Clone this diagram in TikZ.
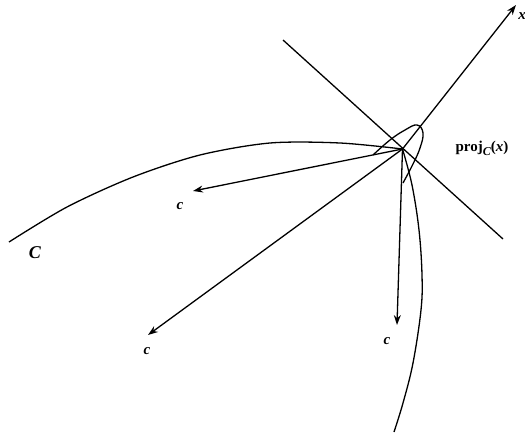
\documentclass[tikz,border=0pt]{standalone}
\usepackage{fontspec}
\setmainfont{Liberation Serif}
\usetikzlibrary{arrows.meta}
\begin{document}
\begin{tikzpicture}[x=1pt,y=-1pt,
  ln/.style={line width=1.3pt},
  vec/.style={line width=1.3pt,-{Stealth[length=10pt,width=7pt]}},
  lab/.style={font=\fontsize{15}{15}\selectfont\bfseries\itshape,inner sep=0pt}]
\useasboundingbox (0,0) rectangle (525,439);
\coordinate (P) at (402.5,149);
\coordinate (c1) at (193,191);
\coordinate (c2) at (148,335);
\coordinate (c3) at (397,325);
\coordinate (xt) at (516,5);
\coordinate (t1) at (283,40);
\coordinate (t2) at (503,239);
% tangent line
\draw[ln] (t1) -- (t2);
% curve C
\draw[ln] plot[smooth,tension=0.5] coordinates {(9,242) (67,207) (133,177) (200,155) (270,143) (340,143) (402.5,149)};
\draw[ln] plot[smooth,tension=0.6] coordinates {(402.5,149) (412,185) (419,230) (422,275) (421,310) (413,363) (403,403) (394,432)};
% cone arc
\draw[ln] plot[smooth,tension=0.7] coordinates {(373,155) (390,140) (405,130) (417,125) (423,133) (420,148) (413,164) (403,183)};
% vectors
\draw[vec] (P) -- (xt);
\draw[vec] (P) -- (c1);
\draw[vec] (P) -- (c2);
\draw[vec] (P) -- (c3);
% labels
\node[lab] (lx) at (522,16) {x};
\node[lab] (l1) at (180,206) {c};
\node[lab] (l2) at (147,351) {c};
\node[lab] (l3) at (387,341) {c};
\node[lab,font=\fontsize{18}{18}\selectfont\bfseries\itshape] (lC) at (35,253) {C};
\node[inner sep=0pt,font=\fontsize{15}{15}\selectfont\bfseries] (lp) at (482,148) {proj\raisebox{-4pt}{\fontsize{12}{12}\selectfont\itshape C}(\textit{x})};
\end{tikzpicture}
\end{document}
